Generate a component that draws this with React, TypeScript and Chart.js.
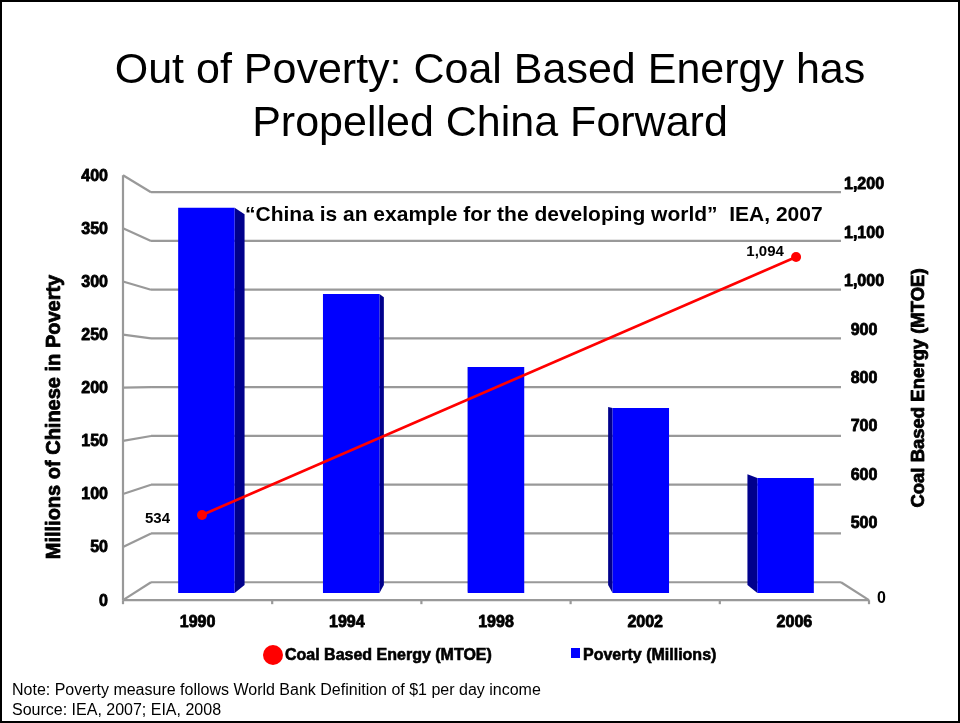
import React, { useEffect, useRef } from "react";
import { Chart, registerables } from "chart.js";

Chart.register(...registerables);

// ---------- data ----------
const categories = ["1990", "1994", "1998", "2002", "2006"];
const povertyMillions = [375, 291, 220, 180, 112];
const coalMtoe: (number | null)[] = [534, null, null, null, 1094];
const leftTicks = [0, 50, 100, 150, 200, 250, 300, 350, 400];
const rightTicks = [500, 600, 700, 800, 900, 1000, 1100, 1200];
const rightBaseLabel = "0";

const titleLines = ["Out of Poverty: Coal Based Energy has", "Propelled China Forward"];
const quoteText = "\u201CChina is an example for the developing world\u201D  IEA, 2007";
const leftAxisTitle = "Millions of Chinese in Poverty";
const rightAxisTitle = "Coal Based Energy (MTOE)";
const legendCoal = "Coal Based Energy (MTOE)";
const legendPoverty = "Poverty (Millions)";
const noteLines = [
  "Note: Poverty measure follows World Bank Definition of $1 per day income",
  "Source: IEA, 2007; EIA, 2008",
];

const FONT = '"Liberation Sans", Arial, Helvetica, sans-serif';

// ---------- pseudo-3D plugin ----------
const threeD = {
  id: "threeD",
  beforeDatasetsDraw(chart: any) {
    const { ctx, chartArea: a, scales } = chart;
    const L = a.left, R = a.right, T = a.top, B = a.bottom;
    const cx = (L + R) / 2, cy = T + (B - T) * 0.486;
    const P = (x: number, y: number, kx: number, ky: number) => [cx + (x - cx) * kx, cy + (y - cy) * ky];
    const F = (x: number, y: number) => P(x, y, 1.0304, 1.034);
    const K = (x: number, y: number) => P(x, y, 0.953, 0.949);
    const D = (x: number, y: number) => P(x, y, 0.962, 0.962);
    const seg = (p: number[], q: number[]) => {
      ctx.beginPath();
      ctx.moveTo(p[0], p[1]);
      ctx.lineTo(q[0], q[1]);
      ctx.stroke();
    };
    ctx.save();
    ctx.strokeStyle = "#999999";
    ctx.lineWidth = 2.2;
    leftTicks.forEach((v) => {
      const y = scales.y.getPixelForValue(v);
      seg(K(L, y), K(R, y));
      seg(F(L, y), K(L, y));
    });
    seg(F(L, T), F(L, B));
    seg(F(L, B), F(R, B));
    seg(K(R, B), F(R, B));
    const n = categories.length;
    for (let k = 0; k <= n; k++) {
      const x = L + ((R - L) * k) / n;
      const p = F(x, B);
      seg(p, [p[0], p[1] + 4]);
    }
    // bar side faces
    const meta = chart.getDatasetMeta(1);
    ctx.fillStyle = "#00008c";
    meta.data.forEach((bar: any) => {
      const { x, y, width, base } = bar.getProps(["x", "y", "width", "base"], true);
      const edge = x < cx ? x + width / 2 : x - width / 2;
      const a1 = D(edge, y), a2 = D(edge, base);
      ctx.beginPath();
      ctx.moveTo(edge, y);
      ctx.lineTo(a1[0], a1[1]);
      ctx.lineTo(a2[0], a2[1]);
      ctx.lineTo(edge, base);
      ctx.closePath();
      ctx.fill();
    });
    ctx.restore();
  },
  afterDatasetsDraw(chart: any) {
    const { ctx, chartArea: a, scales } = chart;
    const L = a.left, R = a.right, T = a.top, B = a.bottom;
    const cx = (L + R) / 2, cy = T + (B - T) * 0.486;
    const F = (x: number, y: number) => [cx + (x - cx) * 1.0304, cy + (y - cy) * 1.034];
    const heavy = (t: string, x: number, y: number) => {
      ctx.strokeText(t, x, y);
      ctx.fillText(t, x, y);
    };
    ctx.save();
    ctx.fillStyle = "#000";
    ctx.strokeStyle = "#000";
    ctx.lineWidth = 0.8;
    ctx.lineJoin = "round";
    ctx.textBaseline = "middle";
    ctx.font = `bold 16px ${FONT}`;
    // left ticks
    ctx.textAlign = "right";
    leftTicks.forEach((v) => {
      const p = F(L, scales.y.getPixelForValue(v));
      heavy(String(v), p[0] - 15, p[1] + 1);
    });
    // right ticks
    const fr = F(R, B);
    ctx.textAlign = "center";
    rightTicks.forEach((v) => {
      heavy(v.toLocaleString("en-US"), fr[0] - 5, scales.y1.getPixelForValue(v) + 1);
    });
    ctx.textAlign = "left";
    ctx.fillText(rightBaseLabel, fr[0] + 8, fr[1] - 2);
    // category labels
    ctx.textAlign = "center";
    categories.forEach((c, i) => {
      const p = F(scales.x.getPixelForValue(i), B);
      heavy(c, p[0], p[1] + 22);
    });
    // axis titles
    ctx.save();
    ctx.font = `bold 20px ${FONT}`;
    ctx.translate(54, 417);
    ctx.rotate(-Math.PI / 2);
    heavy(leftAxisTitle, 0, 0);
    ctx.restore();
    ctx.save();
    ctx.font = `bold 18.5px ${FONT}`;
    ctx.translate(919, 388);
    ctx.rotate(-Math.PI / 2);
    heavy(rightAxisTitle, 0, 0);
    ctx.restore();
    // data labels
    ctx.font = `bold 15px ${FONT}`;
    const lm = chart.getDatasetMeta(0);
    coalMtoe.forEach((v, i) => {
      if (v == null) return;
      const pt = lm.data[i];
      const txt = v.toLocaleString("en-US");
      if (i === 0) {
        ctx.textAlign = "right";
        ctx.fillText(txt, pt.x - 32, pt.y + 4);
      } else {
        ctx.textAlign = "center";
        ctx.fillText(txt, pt.x - 31, pt.y - 5);
      }
    });
    ctx.restore();
  },
};

export default function App() {
  const ref = useRef<HTMLCanvasElement>(null);
  useEffect(() => {
    const chart = new Chart(ref.current as HTMLCanvasElement, {
      type: "bar",
      data: {
        labels: categories,
        datasets: [
          {
            type: "line",
            label: legendCoal,
            data: coalMtoe.map((v, i) => ({ x: i, y: v })) as any,
            xAxisID: "x2",
            yAxisID: "y2",
            borderColor: "#ff0000",
            borderWidth: 2.5,
            pointRadius: 5,
            pointBackgroundColor: "#ff0000",
            pointBorderWidth: 0,
            spanGaps: true,
            tension: 0,
            fill: false,
            order: 0,
          } as any,
          {
            type: "bar",
            label: legendPoverty,
            data: povertyMillions,
            xAxisID: "x",
            yAxisID: "y",
            backgroundColor: "#0000ff",
            borderWidth: 0,
            grouped: false,
            barPercentage: 0.39,
            categoryPercentage: 1,
            order: 1,
          } as any,
        ],
      },
      options: {
        responsive: false,
        maintainAspectRatio: false,
        devicePixelRatio: 1,
        animation: false,
        events: [],
        layout: { padding: { left: 134, right: 102, top: 182, bottom: 130 } },
        plugins: { legend: { display: false }, tooltip: { enabled: false }, title: { display: false } },
        scales: {
          x: { type: "category", display: false, offset: true, grid: { display: false } },
          x2: { type: "linear", display: false, offset: false, min: -0.458, max: 4.417 },
          y: { type: "linear", display: false, offset: false, min: 0, max: 400 },
          y1: { type: "linear", display: false, offset: false, position: "right", min: 354.7, max: 1204.1 },
          y2: { type: "linear", display: false, offset: false, position: "right", min: 364.7, max: 1256.8 },
        } as any,
      },
      plugins: [threeD],
    } as any);
    return () => chart.destroy();
  }, []);

  const abs = (s: React.CSSProperties): React.CSSProperties => ({ position: "absolute", whiteSpace: "pre", ...s });
  const heavyCss: React.CSSProperties = { WebkitTextStroke: "0.6px #000" } as any;

  return (
    <div style={{ position: "absolute", left: 0, top: 0, width: 960, height: 723, background: "#fff", overflow: "hidden", fontFamily: FONT, color: "#000" }}>
      <canvas ref={ref} width={960} height={723} style={{ position: "absolute", left: 0, top: 0, width: 960, height: 723 }} />
      {titleLines.map((t, i) => (
        <div key={i} style={abs({ left: 20, width: 940, top: 41.6 + i * 53, textAlign: "center", fontSize: 43, lineHeight: "53px" })}>
          {t}
        </div>
      ))}
      <div style={abs({ left: 245, top: 203.2, fontSize: 21, fontWeight: "bold", lineHeight: "21px" })}>{quoteText}</div>
      <div style={abs({ left: 263, top: 645, width: 20, height: 20, borderRadius: "50%", background: "#ff0000" })} />
      <div style={abs({ left: 285, top: 647.2, fontSize: 16, fontWeight: "bold", lineHeight: "16px", ...heavyCss })}>{legendCoal}</div>
      <div style={abs({ left: 571, top: 648, width: 9, height: 10, background: "#0000ff" })} />
      <div style={abs({ left: 583, top: 647.2, fontSize: 16, fontWeight: "bold", lineHeight: "16px", ...heavyCss })}>{legendPoverty}</div>
      {noteLines.map((t, i) => (
        <div key={i} style={abs({ left: 12, top: 679.5 + i * 20, fontSize: 16, lineHeight: "20px" })}>
          {t}
        </div>
      ))}
      <div style={{ position: "absolute", left: 0, top: 0, width: 960, height: 723, boxSizing: "border-box", border: "2px solid #000", pointerEvents: "none" }} />
    </div>
  );
}
